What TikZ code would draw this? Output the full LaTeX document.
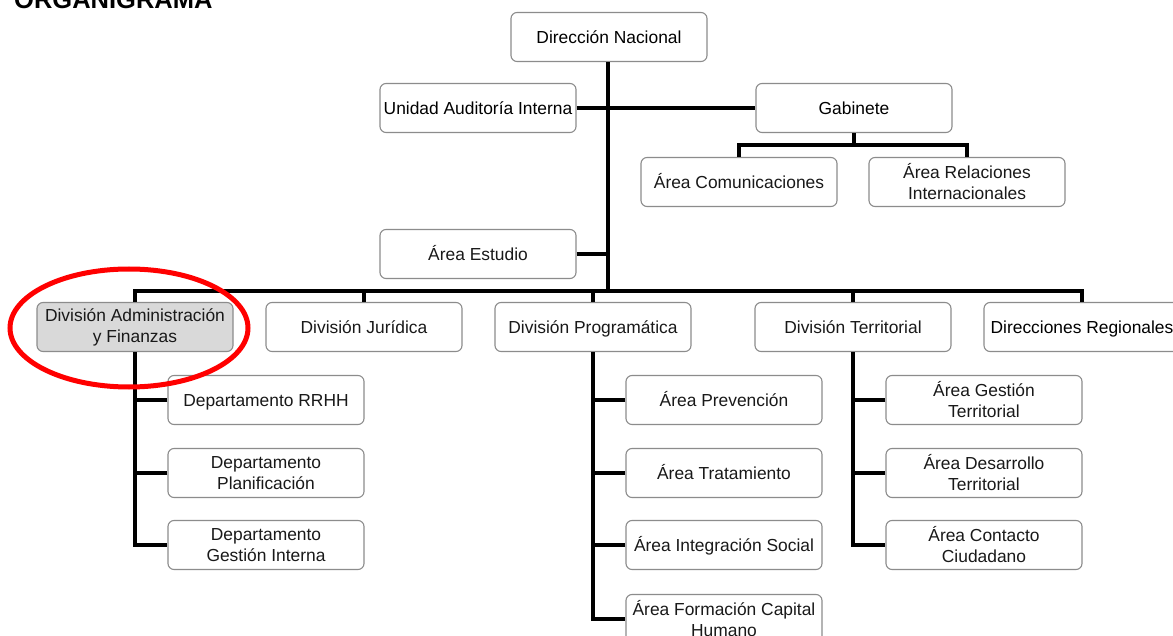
\documentclass[tikz,border=0pt]{standalone}
\usepackage{fontspec}
\setmainfont{Liberation Sans}
\begin{document}
\begin{tikzpicture}[x=1pt,y=-1pt,
  box/.style={draw=boxgray, line width=1.1pt, rounded corners=6pt, fill=white,
    minimum width=196pt, minimum height=49pt, inner sep=1pt, align=center,
    text=black!90, font=\fontsize{17.4}{21}\selectfont},
  one/.style={box, text height=12.6pt, text depth=0.2pt},
  onek/.style={one, text=black},
  conn/.style={line width=4pt, line join=miter, draw=black},
]
\definecolor{boxgray}{HTML}{8C8C8C}
\definecolor{admfill}{HTML}{D9D9D9}
\useasboundingbox (0,0) rectangle (1173,636);
\fill[white] (0,0) rectangle (1173,636);

% title (partly cut at the top, as in the reference)
\node[anchor=base west, inner sep=0, font=\fontsize{25.5}{28}\selectfont\bfseries] (title) at (14,9) {ORGANIGRAMA};

% junction points of the connector bars
\coordinate (bar) at (608,291);
\coordinate (gb) at (854,145);

\node[onek] (dn) at (609,37) {Dirección Nacional};
\node[onek] (uai) at (478,108) {Unidad Auditoría Interna};
\node[onek] (gab) at (854,108) {Gabinete};
\node[one] (com) at (739,182) {Área Comunicaciones};
\node[box] (ri) at (967,182) {Área Relaciones\\Internacionales};
\node[one] (ae) at (478,254) {Área Estudio};

\node[box, fill=admfill] (adm) at (135,327) {División Administración\\y Finanzas};
\node[one] (jur) at (364,327) {División Jurídica};
\node[one] (prog) at (593,327) {División Programática};
\node[one] (ter) at (853,327) {División Territorial};
\node[onek] (dr) at (1082,327) {Direcciones Regionales};

\node[one] (d1) at (266,400) {Departamento RRHH};
\node[box] (d2) at (266,473) {Departamento\\Planificación};
\node[box] (d3) at (266,545) {Departamento\\Gestión Interna};

\node[one] (p1) at (724,400) {Área Prevención};
\node[one] (p2) at (724,473) {Área Tratamiento};
\node[one] (p3) at (724,545) {Área Integración Social};
\node[box] (p4) at (724,619) {Área Formación Capital\\Humano};

\node[box] (t1) at (984,400) {Área Gestión\\Territorial};
\node[box] (t2) at (984,473) {Área Desarrollo\\Territorial};
\node[box] (t3) at (984,545) {Área Contacto\\Ciudadano};

% top trunk
\draw[conn] (dn.south -| bar) -- (bar);
\draw[conn] (uai.east) -- (gab.west);
\draw[conn] (ae.east) -- (ae.east -| bar);
% gabinete children
\draw[conn] (gab.south) -- (gb);
\draw[conn] (com.north) |- (gb) -| (ri.north);
% division bar
\draw[conn] (adm.north) |- (bar) -| (dr.north);
\draw[conn] (jur.north) -- (jur.north |- bar);
\draw[conn] (prog.north) -- (prog.north |- bar);
\draw[conn] (ter.north) -- (ter.north |- bar);
% admin
\draw[conn] (adm.south) |- (d3.west);
\draw[conn] (d1.west) -- (d1.west -| adm.south);
\draw[conn] (d2.west) -- (d2.west -| adm.south);
% programatica
\draw[conn] (prog.south) |- (p4.west);
\draw[conn] (p1.west) -- (p1.west -| prog.south);
\draw[conn] (p2.west) -- (p2.west -| prog.south);
\draw[conn] (p3.west) -- (p3.west -| prog.south);
% territorial
\draw[conn] (ter.south) |- (t3.west);
\draw[conn] (t1.west) -- (t1.west -| ter.south);
\draw[conn] (t2.west) -- (t2.west -| ter.south);

% red highlight
\draw[red, line width=5pt] (129,328) ellipse [x radius=119, y radius=59];
\end{tikzpicture}
\end{document}
